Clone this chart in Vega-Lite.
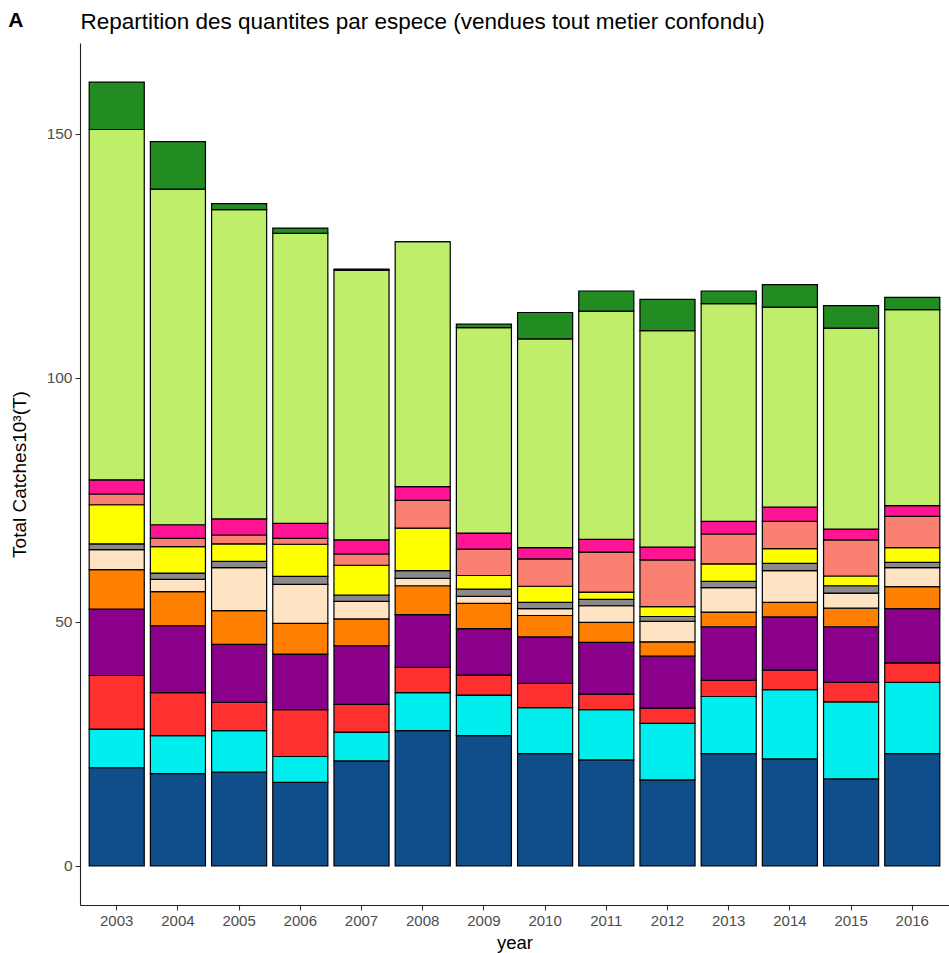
{
  "$schema": "https://vega.github.io/schema/vega-lite/v6.json",
  "width": 869,
  "height": 862,
  "autosize": {"type": "none"},
  "padding": {"left": 80, "top": 43, "right": 0, "bottom": 48},
  "background": "white",
  "title": {"text": "A", "anchor": "start", "frame": "bounds", "fontSize": 21, "fontWeight": "bold", "font": "Liberation Sans", "color": "black", "offset": -21, "dx": -2},
  "config": {
    "view": {"stroke": null},
    "font": "Liberation Sans",
    "axis": {"grid": false}
  },
  "data": {"values": [
    {"year":"2003","sp":"sp01","t":20.1},{"year":"2003","sp":"sp02","t":7.9},{"year":"2003","sp":"sp03","t":11.0},{"year":"2003","sp":"sp04","t":13.6},{"year":"2003","sp":"sp05","t":8.1},{"year":"2003","sp":"sp06","t":4.1},{"year":"2003","sp":"sp07","t":1.2},{"year":"2003","sp":"sp08","t":8.0},{"year":"2003","sp":"sp09","t":2.2},{"year":"2003","sp":"sp10","t":2.9},{"year":"2003","sp":"sp11","t":71.8},{"year":"2003","sp":"sp12","t":9.7},
    {"year":"2004","sp":"sp01","t":18.9},{"year":"2004","sp":"sp02","t":7.8},{"year":"2004","sp":"sp03","t":8.8},{"year":"2004","sp":"sp04","t":13.7},{"year":"2004","sp":"sp05","t":7.0},{"year":"2004","sp":"sp06","t":2.5},{"year":"2004","sp":"sp07","t":1.3},{"year":"2004","sp":"sp08","t":5.4},{"year":"2004","sp":"sp09","t":1.7},{"year":"2004","sp":"sp10","t":2.8},{"year":"2004","sp":"sp11","t":68.8},{"year":"2004","sp":"sp12","t":9.7},
    {"year":"2005","sp":"sp01","t":19.2},{"year":"2005","sp":"sp02","t":8.5},{"year":"2005","sp":"sp03","t":5.8},{"year":"2005","sp":"sp04","t":11.9},{"year":"2005","sp":"sp05","t":6.9},{"year":"2005","sp":"sp06","t":8.8},{"year":"2005","sp":"sp07","t":1.3},{"year":"2005","sp":"sp08","t":3.6},{"year":"2005","sp":"sp09","t":1.8},{"year":"2005","sp":"sp10","t":3.3},{"year":"2005","sp":"sp11","t":63.4},{"year":"2005","sp":"sp12","t":1.2},
    {"year":"2006","sp":"sp01","t":17.1},{"year":"2006","sp":"sp02","t":5.3},{"year":"2006","sp":"sp03","t":9.6},{"year":"2006","sp":"sp04","t":11.4},{"year":"2006","sp":"sp05","t":6.3},{"year":"2006","sp":"sp06","t":8.0},{"year":"2006","sp":"sp07","t":1.6},{"year":"2006","sp":"sp08","t":6.6},{"year":"2006","sp":"sp09","t":1.2},{"year":"2006","sp":"sp10","t":3.1},{"year":"2006","sp":"sp11","t":59.4},{"year":"2006","sp":"sp12","t":1.1},
    {"year":"2007","sp":"sp01","t":21.5},{"year":"2007","sp":"sp02","t":5.9},{"year":"2007","sp":"sp03","t":5.7},{"year":"2007","sp":"sp04","t":12.0},{"year":"2007","sp":"sp05","t":5.5},{"year":"2007","sp":"sp06","t":3.6},{"year":"2007","sp":"sp07","t":1.3},{"year":"2007","sp":"sp08","t":6.1},{"year":"2007","sp":"sp09","t":2.3},{"year":"2007","sp":"sp10","t":2.9},{"year":"2007","sp":"sp11","t":55.3},{"year":"2007","sp":"sp12","t":0.2},
    {"year":"2008","sp":"sp01","t":27.7},{"year":"2008","sp":"sp02","t":7.8},{"year":"2008","sp":"sp03","t":5.2},{"year":"2008","sp":"sp04","t":10.8},{"year":"2008","sp":"sp05","t":5.9},{"year":"2008","sp":"sp06","t":1.5},{"year":"2008","sp":"sp07","t":1.6},{"year":"2008","sp":"sp08","t":8.7},{"year":"2008","sp":"sp09","t":5.7},{"year":"2008","sp":"sp10","t":2.8},{"year":"2008","sp":"sp11","t":50.2},{"year":"2008","sp":"sp12","t":0},
    {"year":"2009","sp":"sp01","t":26.7},{"year":"2009","sp":"sp02","t":8.3},{"year":"2009","sp":"sp03","t":4.1},{"year":"2009","sp":"sp04","t":9.5},{"year":"2009","sp":"sp05","t":5.2},{"year":"2009","sp":"sp06","t":1.4},{"year":"2009","sp":"sp07","t":1.5},{"year":"2009","sp":"sp08","t":2.8},{"year":"2009","sp":"sp09","t":5.4},{"year":"2009","sp":"sp10","t":3.3},{"year":"2009","sp":"sp11","t":42.1},{"year":"2009","sp":"sp12","t":0.7},
    {"year":"2010","sp":"sp01","t":23.0},{"year":"2010","sp":"sp02","t":9.4},{"year":"2010","sp":"sp03","t":5.0},{"year":"2010","sp":"sp04","t":9.5},{"year":"2010","sp":"sp05","t":4.4},{"year":"2010","sp":"sp06","t":1.4},{"year":"2010","sp":"sp07","t":1.3},{"year":"2010","sp":"sp08","t":3.3},{"year":"2010","sp":"sp09","t":5.6},{"year":"2010","sp":"sp10","t":2.3},{"year":"2010","sp":"sp11","t":42.8},{"year":"2010","sp":"sp12","t":5.4},
    {"year":"2011","sp":"sp01","t":21.7},{"year":"2011","sp":"sp02","t":10.3},{"year":"2011","sp":"sp03","t":3.2},{"year":"2011","sp":"sp04","t":10.6},{"year":"2011","sp":"sp05","t":4.1},{"year":"2011","sp":"sp06","t":3.4},{"year":"2011","sp":"sp07","t":1.3},{"year":"2011","sp":"sp08","t":1.5},{"year":"2011","sp":"sp09","t":8.2},{"year":"2011","sp":"sp10","t":2.6},{"year":"2011","sp":"sp11","t":46.8},{"year":"2011","sp":"sp12","t":4.1},
    {"year":"2012","sp":"sp01","t":17.6},{"year":"2012","sp":"sp02","t":11.6},{"year":"2012","sp":"sp03","t":3.1},{"year":"2012","sp":"sp04","t":10.7},{"year":"2012","sp":"sp05","t":2.9},{"year":"2012","sp":"sp06","t":4.2},{"year":"2012","sp":"sp07","t":1.0},{"year":"2012","sp":"sp08","t":2.0},{"year":"2012","sp":"sp09","t":9.6},{"year":"2012","sp":"sp10","t":2.6},{"year":"2012","sp":"sp11","t":44.4},{"year":"2012","sp":"sp12","t":6.4},
    {"year":"2013","sp":"sp01","t":23.0},{"year":"2013","sp":"sp02","t":11.7},{"year":"2013","sp":"sp03","t":3.3},{"year":"2013","sp":"sp04","t":11.0},{"year":"2013","sp":"sp05","t":3.0},{"year":"2013","sp":"sp06","t":5.0},{"year":"2013","sp":"sp07","t":1.3},{"year":"2013","sp":"sp08","t":3.6},{"year":"2013","sp":"sp09","t":6.1},{"year":"2013","sp":"sp10","t":2.6},{"year":"2013","sp":"sp11","t":44.6},{"year":"2013","sp":"sp12","t":2.6},
    {"year":"2014","sp":"sp01","t":21.9},{"year":"2014","sp":"sp02","t":14.2},{"year":"2014","sp":"sp03","t":4.0},{"year":"2014","sp":"sp04","t":10.9},{"year":"2014","sp":"sp05","t":3.0},{"year":"2014","sp":"sp06","t":6.5},{"year":"2014","sp":"sp07","t":1.5},{"year":"2014","sp":"sp08","t":3.0},{"year":"2014","sp":"sp09","t":5.6},{"year":"2014","sp":"sp10","t":2.9},{"year":"2014","sp":"sp11","t":41.0},{"year":"2014","sp":"sp12","t":4.6},
    {"year":"2015","sp":"sp01","t":17.8},{"year":"2015","sp":"sp02","t":15.8},{"year":"2015","sp":"sp03","t":4.0},{"year":"2015","sp":"sp04","t":11.4},{"year":"2015","sp":"sp05","t":3.8},{"year":"2015","sp":"sp06","t":3.1},{"year":"2015","sp":"sp07","t":1.5},{"year":"2015","sp":"sp08","t":2.0},{"year":"2015","sp":"sp09","t":7.4},{"year":"2015","sp":"sp10","t":2.2},{"year":"2015","sp":"sp11","t":41.2},{"year":"2015","sp":"sp12","t":4.6},
    {"year":"2016","sp":"sp01","t":23.0},{"year":"2016","sp":"sp02","t":14.6},{"year":"2016","sp":"sp03","t":4.0},{"year":"2016","sp":"sp04","t":11.1},{"year":"2016","sp":"sp05","t":4.5},{"year":"2016","sp":"sp06","t":3.9},{"year":"2016","sp":"sp07","t":1.1},{"year":"2016","sp":"sp08","t":3.0},{"year":"2016","sp":"sp09","t":6.4},{"year":"2016","sp":"sp10","t":2.2},{"year":"2016","sp":"sp11","t":40.2},{"year":"2016","sp":"sp12","t":2.5}
  ]},
  "resolve": {"axis": {"x": "independent"}},
  "layer": [
    {
      "mark": {"type": "bar", "stroke": "black", "strokeWidth": 1.2},
      "encoding": {
        "x": {"field": "year", "type": "ordinal",
              "scale": {"paddingInner": 0.1, "paddingOuter": 0.15},
              "axis": {"orient": "bottom", "title": "year", "labelAngle": 0, "labelFontSize": 15, "labelColor": "#4D4D4D", "labelPadding": 3,
                       "tickColor": "#333333", "tickSize": 5, "tickWidth": 1.1, "domainColor": "#222222", "domainWidth": 1.1,
                       "titleFontSize": 18.5, "titleFontWeight": "normal", "titleColor": "black", "titlePadding": 5}},
        "y": {"field": "t", "type": "quantitative", "stack": "zero",
              "scale": {"domain": [-8.03, 168.63], "nice": false, "zero": false},
              "axis": {"values": [0, 50, 100, 150], "title": "Total Catches10³(T)", "labelFontSize": 15.5, "labelColor": "#4D4D4D", "labelPadding": 3,
                       "tickColor": "#333333", "tickSize": 5, "tickWidth": 1.1, "domainColor": "#222222", "domainWidth": 1.1,
                       "titleFontSize": 19, "titleFontWeight": "normal", "titleColor": "black", "titlePadding": 17}},
        "color": {"field": "sp", "type": "nominal", "legend": null,
                  "scale": {"domain": ["sp01","sp02","sp03","sp04","sp05","sp06","sp07","sp08","sp09","sp10","sp11","sp12"],
                            "range": ["#104E8B","#00EEEE","#FF3030","#8B008B","#FF7F00","#FFE4C4","#8B8989","#FFFF00","#FA8072","#FF1493","#BFEE6B","#228B22"]}},
        "order": {"field": "sp", "sort": "ascending"}
      }
    },
    {
      "mark": {"type": "rule", "opacity": 0},
      "encoding": {
        "x": {"field": "year", "type": "ordinal",
              "axis": {"orient": "top", "labels": false, "ticks": false, "domain": false,
                       "title": "Repartition des quantites par espece (vendues tout metier confondu)",
                       "titleAnchor": "start", "titleFontSize": 22.5, "titleFontWeight": "normal", "titleColor": "black", "titlePadding": 10}}
      }
    }
  ]
}
